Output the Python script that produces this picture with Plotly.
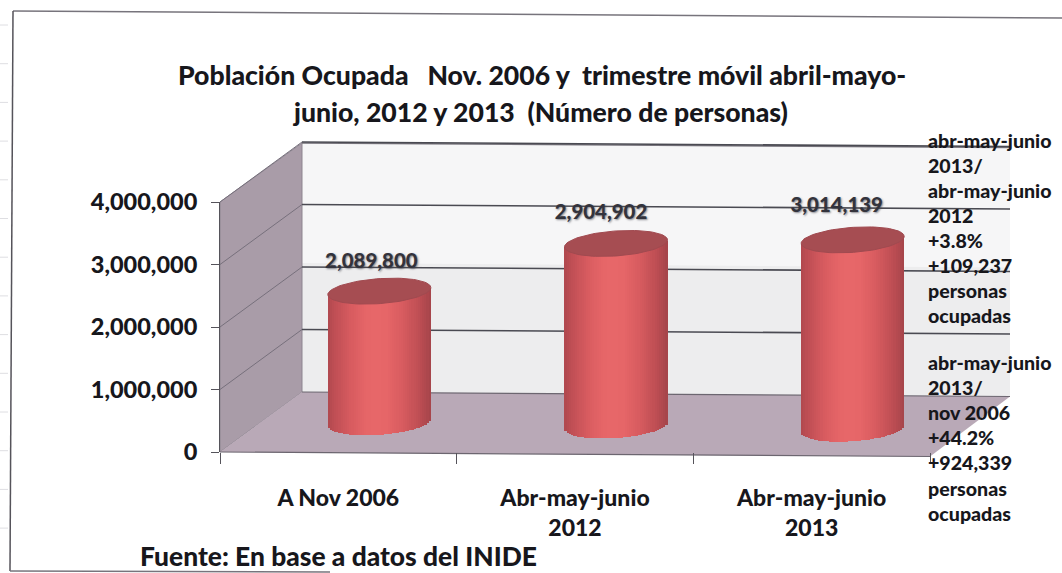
import numpy as np
import plotly.graph_objects as go

W, H = 1062, 573

categories = ["A Nov 2006", "Abr-may-junio<br>2012", "Abr-may-junio<br>2013"]
values = [2089800, 2904902, 3014139]
value_labels = ["2,089,800", "2,904,902", "3,014,139"]
y_ticks = [0, 1000000, 2000000, 3000000, 4000000]
y_tick_labels = ["0", "1,000,000", "2,000,000", "3,000,000", "4,000,000"]
title_lines = ["Población Ocupada   Nov. 2006 y  trimestre móvil abril-mayo-",
               "junio, 2012 y 2013  (Número de personas)"]
source_text = "Fuente: En base a datos del INIDE"
note_one = ["abr-may-junio", "2013/", "abr-may-junio", "2012", "+3.8%", "+109,237", "personas", "ocupadas"]
note_two = ["abr-may-junio", "2013/", "nov 2006", "+44.2%", "+924,339", "personas", "ocupadas"]

FONT = "Lato"
INK = "#17171c"
HEAVY = 900

# frame geometry, in pixels
FL, FR, FB, FT = 220, 930, 452, 202      # front plane of the axes
BL, BR, BB, BT = 302, 1010, 392, 143     # back wall
TILT = 4.5                               # pixels the scanned page drops across the chart
BAR_DROP = 3.25                          # pixels each cylinder base drops relative to the previous one
UNIT = (FB - FT) / 4e6
MID_X, MID_Y = 41, 27                    # plane in which the cylinders stand

fx = lambda p: p / W
fy = lambda p: 1 - p / H

fig = go.Figure()

def poly(pts, fill, line="rgba(0,0,0,0)", width=0):
    d = "M" + " L".join(f"{fx(x):.5f},{fy(y):.5f}" for x, y in pts) + " Z"
    fig.add_shape(type="path", path=d, xref="paper", yref="paper", fillcolor=fill,
                  line=dict(color=line, width=width), layer="below")

def seg(x0, y0, x1, y1, color, width):
    fig.add_shape(type="line", xref="paper", yref="paper", x0=fx(x0), y0=fy(y0), x1=fx(x1), y1=fy(y1),
                  line=dict(color=color, width=width), layer="below")

# scan frame and the faint marks of the page's left edge
seg(13, 11, 1062, 18, "#77747c", 1.5)
seg(13, 11, 10, 571, "#55535a", 1.5)
seg(10, 571, 330, 572, "#77747c", 1.5)
for k in range(14):
    seg(0, 25 + k * 38.7, 8, 25 + k * 38.7, "#dedee2", 1)

# walls
poly([(BL, BT), (BR, BT + TILT), (BR, BB + TILT), (BL, BB)], "#ededee")
poly([(BL, BT), (BR, BT + TILT), (BR, BT + TILT + 120), (BL, BT + 120)], "#f6f6f7")
poly([(FL, FT), (BL, BT), (BL, BB), (FL, FB)], "#a99ca8", "#8d8590", 1)
poly([(FL, FB), (BL, BB), (BR, BB + TILT), (FR, FB + TILT)], "#b9a9b7")
seg(BL, BT, BR, BT + TILT, "#77747c", 1.6)

for v in y_ticks[1:]:
    d = v * UNIT
    seg(BL, BB - d, BR, BB + TILT - d, "#4a4a52", 1.6)
    seg(FL, FB - d, BL, BB - d, "#77707c", 1)
seg(BL, BB, BR, BB + TILT, "#6c6670", 1.2)
seg(FL, FB, FR, FB + TILT, "#6c6670", 1.2)

# front axes: only carry the ticks and the labels
fig.add_trace(go.Bar(x=categories, y=values, opacity=0, hoverinfo="skip", showlegend=False))

# the cylinders are drawn on a plane set back from the front axes
x_pos = np.arange(len(values))
px_per_cat = (FR - FL) / 3
half = 51.5 / px_per_cat
b_px, k_px = 12.5, 3.5
shades_pos = [0.0, 0.18, 0.45, 0.75, 1.0]
shades_rgb = [(232, 104, 106), (230, 102, 104), (216, 92, 96), (190, 78, 84), (158, 66, 72)]
STEPS = 48

def shade(u):
    return "rgb(%d,%d,%d)" % tuple(int(np.interp(abs(u), shades_pos, [c[i] for c in shades_rgb])) for i in range(3))

tilt_units = [BAR_DROP * (i - 1) / UNIT for i in x_pos]

edges = np.linspace(-1, 1, STEPS + 1)
mid = (edges[:-1] + edges[1:]) / 2
for i, v in enumerate(values):
    base0 = -tilt_units[i]
    lower = base0 - (b_px * np.sqrt(1 - mid ** 2) - k_px * mid) / UNIT
    upper = base0 + v + k_px * mid / UNIT
    fig.add_trace(go.Bar(
        x=x_pos[i] + mid * half, y=upper - lower, base=lower,
        width=(edges[1] - edges[0]) * half * 1.08,
        marker=dict(color=[shade(0.9 * (u + 0.05)) for u in mid], line=dict(width=0)),
        xaxis="x2", yaxis="y2", hoverinfo="skip", showlegend=False))
    t = np.linspace(0, 2 * np.pi, 90)
    fig.add_trace(go.Scatter(
        x=x_pos[i] + half * np.cos(t),
        y=base0 + v + (b_px * np.sin(t) + k_px * np.cos(t)) / UNIT,
        mode="lines", fill="toself", fillcolor="#a64d52", line=dict(color="#a04a50", width=1),
        xaxis="x2", yaxis="y2", hoverinfo="skip", showlegend=False))

# value labels sit a little left of and above each cap
label_dx = [-8, -15, -16]
label_dy = [28, 30, 33]
fig.add_trace(go.Scatter(
    x=[p + dx / px_per_cat for p, dx in zip(x_pos, label_dx)],
    y=[v - t + dy / UNIT for v, t, dy in zip(values, tilt_units, label_dy)],
    text=value_labels, mode="text", textposition="middle center",
    textfont=dict(family=FONT, size=20.4, color="#33333c", weight=HEAVY,
                  shadow="1px 1px 2px rgba(60,60,70,0.6)"),
    xaxis="x2", yaxis="y2", hoverinfo="skip", showlegend=False))

annos = []
def note(text, x, y, size, anchor="left"):
    annos.append(dict(text=text, x=fx(x), y=fy(y), xref="paper", yref="paper", showarrow=False,
                      xanchor=anchor, yanchor="middle", align=anchor,
                      font=dict(family=FONT, size=size, color=INK, weight=HEAVY)))

note(title_lines[0], 542, 75, 26.6, "center")
note(title_lines[1], 540, 112, 26.6, "center")
note(source_text, 138, 556, 26.4)
for k, t in enumerate(note_one):
    note(t, 926.5, 140 + k * 25.1, 19.6)
for k, t in enumerate(note_two):
    note(t, 926.5, 362 + k * 25.2, 19.6)

z_px = FB - MID_Y
fig.update_layout(
    width=W, height=H, margin=dict(l=0, r=0, t=0, b=0),
    paper_bgcolor="white", plot_bgcolor="rgba(0,0,0,0)",
    showlegend=False, barmode="overlay", bargap=0, annotations=annos,
    xaxis=dict(domain=[fx(FL), fx(FR)], type="category", range=[-0.5, 2.5], tickson="boundaries",
               ticks="outside", ticklen=11, tickcolor="#55535a", linecolor="rgba(0,0,0,0)",
               showgrid=False, zeroline=False, ticklabelstandoff=25, automargin=False,
               tickfont=dict(family=FONT, size=23, color=INK, weight=HEAVY), anchor="y"),
    yaxis=dict(domain=[fy(FB), fy(FT)], range=[0, 4e6], tickvals=y_ticks, ticktext=y_tick_labels,
               ticks="outside", ticklen=8, tickcolor="#55535a", showline=True, linecolor="#55535a",
               showgrid=False, zeroline=False, ticklabelstandoff=9, automargin=False,
               tickfont=dict(family=FONT, size=23.5, color=INK, weight=HEAVY), anchor="x"),
    xaxis2=dict(domain=[fx(FL + MID_X), fx(FR + MID_X)], range=[-0.5, 2.5], visible=False, anchor="y2",
                automargin=False),
    yaxis2=dict(domain=[fy(z_px + 30), fy(z_px - 4.2e6 * UNIT)], range=[-30 / UNIT, 4.2e6], visible=False,
                anchor="x2", automargin=False),
)

fig.write_html("out.html", config=dict(displayModeBar=False),
               post_script="document.body.style.margin='0';document.body.style.overflow='hidden';")
